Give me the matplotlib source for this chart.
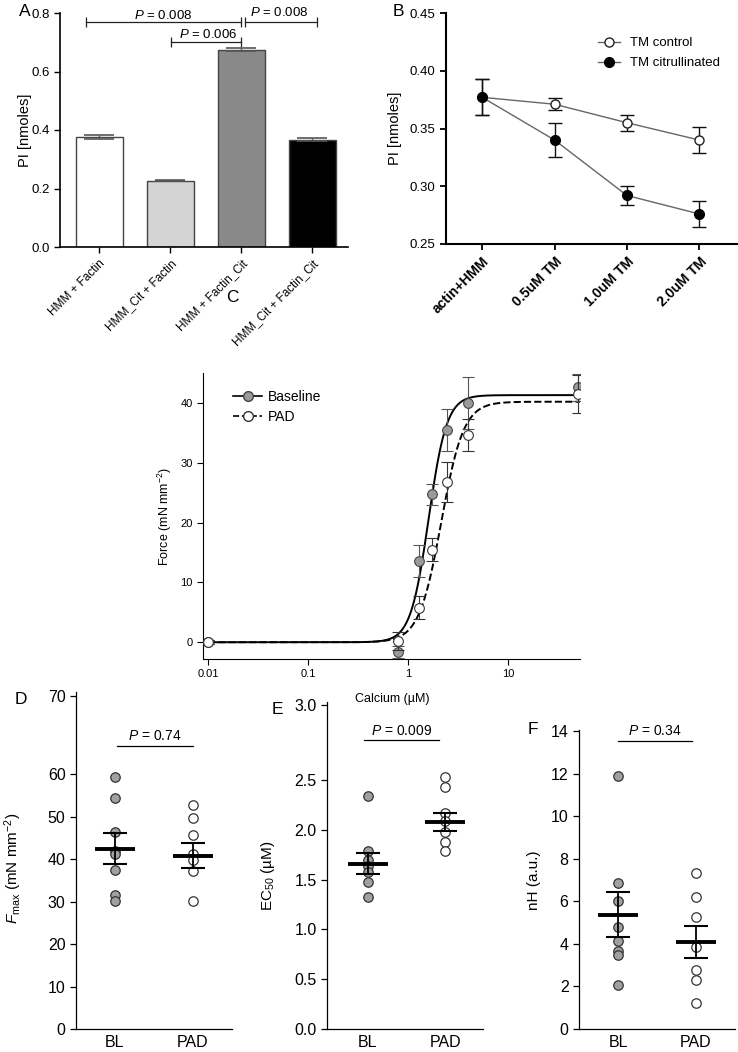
import numpy as np
import matplotlib
matplotlib.use('Agg')
import matplotlib.pyplot as plt
from matplotlib.lines import Line2D

plt.rcParams['font.family'] = ['Liberation Sans', 'DejaVu Sans']
plt.rcParams['mathtext.fontset'] = 'custom'
plt.rcParams['mathtext.rm'] = 'Liberation Sans'
plt.rcParams['mathtext.it'] = 'Liberation Sans:italic'
plt.rcParams['mathtext.bf'] = 'Liberation Sans:bold'

W, H = 738, 1052

# ---- panel A: ATPase Pi release
a_labels = ['HMM + Factin', 'HMM_Cit + Factin', 'HMM + Factin_Cit', 'HMM_Cit + Factin_Cit']
a_pi = [0.377, 0.227, 0.675, 0.367]
a_err = [0.007, 0.003, 0.004, 0.004]
a_colors = ['white', '#d4d4d4', '#898989', 'black']

# ---- panel B: TM titration
b_labels = ['actin+HMM', '0.5uM TM', '1.0uM TM', '2.0uM TM']
b_ctrl = [0.377, 0.371, 0.355, 0.340]
b_ctrl_err = [0.0155, 0.005, 0.007, 0.011]
b_cit = [0.377, 0.340, 0.292, 0.276]
b_cit_err = [0.0155, 0.015, 0.008, 0.011]

# ---- panel C: force-calcium
ca = [0.01, 0.79, 1.29, 1.74, 2.45, 3.98, 50.0]
force_bl = [0.0, -1.7, 13.6, 24.7, 35.5, 40.0, 42.6]
force_bl_err = [0.3, 1.0, 2.7, 1.8, 3.5, 4.4, 2.2]
force_pad = [0.0, 0.2, 5.8, 15.5, 26.8, 34.6, 41.5]
force_pad_err = [0.3, 1.5, 1.9, 1.9, 3.3, 2.7, 3.2]
# Hill fit parameters (Fmax, EC50, nH)
fit_bl = (41.3, 1.60, 4.8)
fit_pad = (40.2, 2.14, 3.9)

# ---- panels D-F: individual fits
d_bl = [59.2, 54.3, 46.4, 42.0, 41.3, 37.4, 31.5, 30.1]
d_pad = [52.7, 49.6, 45.6, 41.3, 39.8, 37.2, 30.1]
d_mean, d_sem = [42.4, 40.8], [3.65, 2.95]
e_bl = [2.34, 1.79, 1.70, 1.64, 1.58, 1.48, 1.33]
e_pad = [2.52, 2.43, 2.17, 2.09, 1.98, 1.88, 1.79]
e_mean, e_sem = [1.66, 2.08], [0.105, 0.095]
f_bl = [11.9, 6.85, 6.0, 4.8, 4.15, 3.65, 3.5, 2.07]
f_pad = [7.35, 6.18, 5.28, 3.85, 2.75, 2.30, 1.21]
f_mean, f_sem = [5.36, 4.08], [1.06, 0.74]
groups = ['BL', 'PAD']


def rect(l, t, r, b):
    return [l / W, 1 - b / H, (r - l) / W, (b - t) / H]


def fpos(x, y):
    return x / W, 1 - y / H


def label_at(ax, axis, x, y):
    # place an axis label at figure pixel coords
    pos = ax.get_position()
    xa = (x / W - pos.x0) / pos.width
    ya = ((1 - y / H) - pos.y0) / pos.height
    if axis == 'y':
        ax.yaxis.set_label_coords(xa, ya)
    else:
        ax.xaxis.set_label_coords(xa, ya)


def top_stretch(brk, k):
    def fwd(y):
        y = np.asarray(y, dtype=float)
        return np.where(y > brk, brk + (y - brk) * k, y)

    def inv(y):
        y = np.asarray(y, dtype=float)
        return np.where(y > brk, brk + (y - brk) / k, y)
    return fwd, inv


def bracket(ax, x0, x1, y, txt, tx, ty, fs=9.5):
    ax.plot([x0, x1], [y, y], color='#222', lw=0.9, clip_on=False)
    ax.plot([x0, x1], [y, y], ls='none', marker='|', ms=7, mew=0.9, color='#222', clip_on=False)
    ax.text(tx, ty, txt, ha='center', va='center', fontsize=fs, clip_on=False)


fig = plt.figure(figsize=(W / 100, H / 100), dpi=100)

# ================= A
ax = fig.add_axes(rect(60, 13, 348, 247), facecolor='none')
xa = np.arange(len(a_pi))
ax.bar(xa, a_pi, width=0.66, color=a_colors, edgecolor='#444', lw=1.0, zorder=2)
ax.errorbar(xa, a_pi, yerr=a_err, fmt='none', ecolor='#555', elinewidth=1.0,
            capsize=11, capthick=1.2, zorder=3)
ax.set_xlim(-0.55, 3.5)
ax.set_ylim(0, 0.8)
ax.set_yticks([0, 0.2, 0.4, 0.6, 0.8])
ax.set_yticklabels(['0.0', '0.2', '0.4', '0.6', '0.8'], fontsize=9.5)
ax.set_xticks(xa)
ax.set_xticklabels(a_labels, rotation=45, ha='right', va='top', rotation_mode='anchor', fontsize=8.5)
ax.tick_params(direction='out', length=4, width=1)
for s in ['top', 'right']:
    ax.spines[s].set_visible(False)
for s in ['left', 'bottom']:
    ax.spines[s].set_linewidth(1.2)
ax.set_ylabel('PI [nmoles]', fontsize=10.5)
label_at(ax, 'y', 32, 130)
bracket(ax, -0.19, 2.0, 0.768, r'$\it{P}$ = 0.008', 0.9, 0.792)
bracket(ax, 2.05, 3.07, 0.768, r'$\it{P}$ = 0.008', 2.54, 0.80)
bracket(ax, 1.01, 2.0, 0.701, r'$\it{P}$ = 0.006', 1.53, 0.727)
fig.text(*fpos(25, 11), 'A', fontsize=12.5, ha='center', va='center')

# ================= B
ax = fig.add_axes(rect(446, 13, 737, 244), facecolor='none')
xb = np.arange(len(b_ctrl))
ax.errorbar(xb, b_ctrl, yerr=b_ctrl_err, color='#666', lw=1.0, marker='o', ms=6.5,
            mfc='white', mec='#222', mew=1.0, ecolor='#111', elinewidth=1.0,
            capsize=5, capthick=1.0, zorder=2)
ax.errorbar(xb, b_cit, yerr=b_cit_err, color='#666', lw=1.0, marker='o', ms=7,
            mfc='black', mec='black', ecolor='#111', elinewidth=1.0,
            capsize=5, capthick=1.0, zorder=3)
ax.set_xlim(-0.5, 3.52)
ax.set_ylim(0.25, 0.45)
ax.set_yticks([0.25, 0.30, 0.35, 0.40, 0.45])
ax.set_yticklabels(['0.25', '0.30', '0.35', '0.40', '0.45'], fontsize=9.5)
ax.set_xticks(xb)
ax.set_xticklabels(b_labels, rotation=45, ha='right', va='top', rotation_mode='anchor',
                   fontsize=10, fontweight='bold')
ax.tick_params(direction='out', length=4, width=1.3)
for s in ['top', 'right']:
    ax.spines[s].set_visible(False)
for s in ['left', 'bottom']:
    ax.spines[s].set_linewidth(1.5)
ax.set_ylabel('PI [nmoles]', fontsize=10.5)
label_at(ax, 'y', 402, 128)
hb = [Line2D([], [], color='#666', lw=1.0, marker='o', ms=6.5, mfc='white', mec='#222'),
      Line2D([], [], color='#666', lw=1.0, marker='o', ms=7, mfc='black', mec='black')]
ax.legend(hb, ['TM control', 'TM citrullinated'], loc='upper left', frameon=False,
          fontsize=9.5, handlelength=1.7, handletextpad=0.7, labelspacing=0.6,
          borderpad=0, borderaxespad=0,
          bbox_to_anchor=fpos(598, 37), bbox_transform=fig.transFigure)
fig.text(*fpos(398, 11), 'B', fontsize=12.5, ha='center', va='center')

# ================= C
ax = fig.add_axes(rect(203, 373, 580, 659), facecolor='none')
xs = np.logspace(-2, np.log10(52), 400)
for (fm, ec, nh), ls in [(fit_bl, '-'), (fit_pad, '--')]:
    ax.plot(xs, fm / (1 + (ec / xs) ** nh), color='black', lw=1.4, ls=ls, zorder=2)
ax.errorbar(ca, force_bl, yerr=force_bl_err, fmt='o', ms=7, mfc='#9a9a9a', mec='#444',
            mew=0.8, ecolor='#555', elinewidth=0.8, capsize=4, capthick=0.8, zorder=3)
ax.errorbar(ca, force_pad, yerr=force_pad_err, fmt='o', ms=7, mfc='white', mec='#333',
            mew=0.8, ecolor='#333', elinewidth=0.8, capsize=4, capthick=0.8, zorder=4)
ax.set_xscale('log')
ax.set_xlim(10 ** -2.05, 52)
ax.set_ylim(-2.8, 45)
ax.set_xticks([0.01, 0.1, 1, 10])
ax.set_xticklabels(['0.01', '0.1', '1', '10'], fontsize=8)
ax.xaxis.set_minor_locator(matplotlib.ticker.NullLocator())
ax.set_yticks([0, 10, 20, 30, 40])
ax.set_yticklabels(['0', '10', '20', '30', '40'], fontsize=8)
ax.tick_params(direction='out', length=4, width=0.8)
for s in ['top', 'right']:
    ax.spines[s].set_visible(False)
for s in ['left', 'bottom']:
    ax.spines[s].set_linewidth(0.8)
ax.set_ylabel(r'Force (mN mm$^{-2}$)', fontsize=9)
label_at(ax, 'y', 174, 516)
ax.set_xlabel('Calcium (µM)', fontsize=9)
label_at(ax, 'x', 392, 693)
hc = [Line2D([], [], color='black', lw=1.2, marker='o', ms=7, mfc='#9a9a9a', mec='#444'),
      Line2D([], [], color='black', lw=1.2, ls='--', marker='o', ms=7, mfc='white', mec='#333')]
ax.legend(hc, ['Baseline', 'PAD'], loc='upper left', frameon=False, handlelength=2.1,
          handletextpad=0.4, fontsize=10, labelspacing=0.45, borderpad=0, borderaxespad=0,
          bbox_to_anchor=fpos(233, 390), bbox_transform=fig.transFigure)
fig.text(*fpos(232, 297), 'C', fontsize=12.5, ha='center', va='center')

# ================= D-F
panels = [
    ('D', rect(76, 692, 232, 1029), (d_bl, d_pad), d_mean, d_sem,
     r'$\it{F}_{\rm max}$ (mN mm$^{-2}$)', (24, 868), (21, 700),
     [0, 10, 20, 30, 40, 50, 60, 70], ['0', '10', '20', '30', '40', '50', '60', '70'],
     (0, 70.5), (60, 1.84), (-0.5, 1.5), (0.03, 1.0, 63.6, r'$\it{P}$ = 0.74', 64.9)),
    ('E', rect(327, 702, 483, 1029), (e_bl, e_pad), e_mean, e_sem,
     r'EC$_{50}$ (µM)', (277, 876), (277, 710),
     [0, 0.5, 1.0, 1.5, 2.0, 2.5, 3.0], ['0.0', '0.5', '1.0', '1.5', '2.0', '2.5', '3.0'],
     (0, 3.02), (2.5, 1.51), (-0.53, 1.49), (-0.05, 0.92, 2.764, r'$\it{P}$ = 0.009', 2.83)),
    ('F', rect(579, 730, 735, 1029), (f_bl, f_pad), f_mean, f_sem,
     'nH (a.u.)', (541, 880), (533, 730),
     [0, 2, 4, 6, 8, 10, 12, 14], ['0', '2', '4', '6', '8', '10', '12', '14'],
     (0, 14.05), None, (-0.5, 1.5), (0.0, 0.95, 13.54, r'$\it{P}$ = 0.34', 14.0)),
]
fills = ['#a0a0a0', 'white']
for letter, r, vals, means, sems, ylab, ylpos, lpos, ticks, tlabs, ylim, stretch, xlim, sig in panels:
    ax = fig.add_axes(r, facecolor='none')
    if stretch is not None:
        ax.set_yscale('function', functions=top_stretch(*stretch))
    for i, v in enumerate(vals):
        ax.plot([i] * len(v), v, 'o', ms=6.8, mfc=fills[i], mec='#333', mew=0.9, zorder=2)
        ax.plot([i - 0.26, i + 0.26], [means[i]] * 2, color='black', lw=2.8,
                solid_capstyle='butt', zorder=4)
        ax.errorbar(i, means[i], yerr=sems[i], fmt='none', ecolor='black', elinewidth=1.3,
                    capsize=8.5, capthick=1.5, zorder=4)
    ax.set_xlim(*xlim)
    ax.set_ylim(*ylim)
    ax.set_yticks(ticks)
    ax.set_yticklabels(tlabs, fontsize=11.5)
    ax.set_xticks([0, 1])
    ax.set_xticklabels(groups, fontsize=11.5)
    ax.tick_params(axis='y', direction='out', length=4, width=0.9)
    ax.tick_params(axis='x', length=0, pad=4)
    for s in ['top', 'right']:
        ax.spines[s].set_visible(False)
    for s in ['left', 'bottom']:
        ax.spines[s].set_linewidth(0.9)
    ax.set_ylabel(ylab, fontsize=11)
    label_at(ax, 'y', *ylpos)
    x0, x1, ys, txt, ty = sig
    ax.plot([x0, x1], [ys, ys], color='black', lw=0.9, clip_on=False)
    ax.text((x0 + x1) / 2, ty, txt, ha='center', va='center', fontsize=10, clip_on=False)
    fig.text(*fpos(*lpos), letter, fontsize=12.5, ha='center', va='center')

fig.savefig('out.png', dpi=100)
